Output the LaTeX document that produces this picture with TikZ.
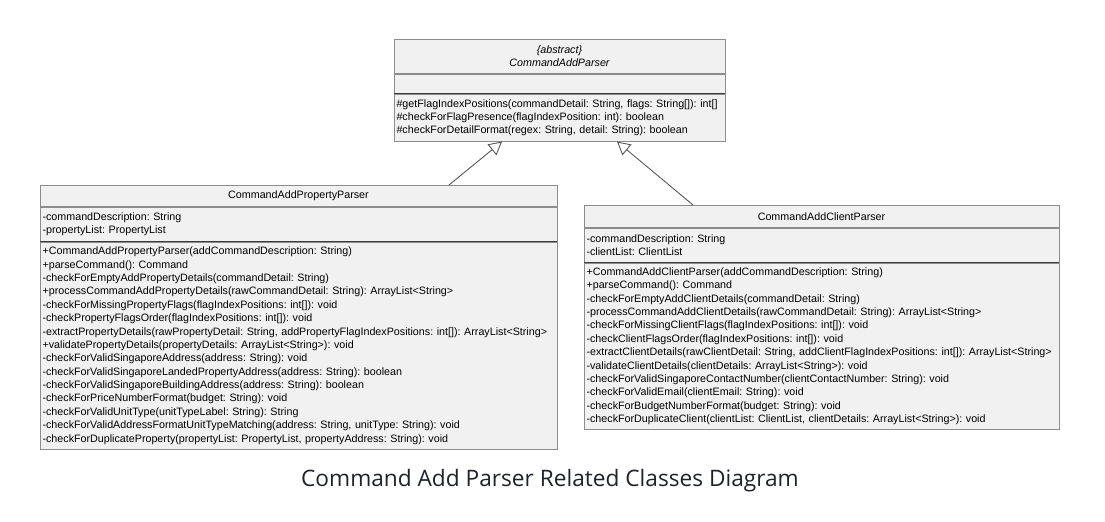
\documentclass[tikz,border=0pt]{standalone}
\usepackage{fontspec}
\usetikzlibrary{arrows.meta}

\newfontfamily\umlfont{Liberation Sans}
\newfontfamily\capfont{Open Sans}
\newcommand\umltext{\umlfont\fontsize{6.1}{7.62}\selectfont\frenchspacing\hyphenpenalty=10000}

\definecolor{boxfill}{HTML}{F1F1F1}
\definecolor{boxline}{HTML}{8C8C8C}
\definecolor{sepline}{HTML}{3C3C3C}
\definecolor{captext}{HTML}{1F2328}

\tikzset{
    part/.style={draw=boxline, line width=0.5pt, fill=boxfill, rectangle, inner xsep=0.05cm, inner ysep=0pt, anchor=north, align=left, font=\umltext},
    inherit/.style={draw=boxline!60!black, line width=0.5pt, -{Triangle[open, length=0.26cm, width=0.28cm]}}
}

\begin{document}
\begin{tikzpicture}[x=0.02cm, y=-0.02cm]
    \useasboundingbox (0,0) rectangle (1105,521);

    %% abstract parent
    \node[part, minimum width=6.62cm, minimum height=0.68cm, align=center, font=\umltext\itshape](parser) at (559.5,39){\{abstract\}\\CommandAddParser};
    \node[part, minimum width=6.62cm, minimum height=0.38cm](parserattr) at (parser.south){};
    \node[part, minimum width=6.62cm, minimum height=0.94cm, text width=6.52cm](parserops) at (parserattr.south){\#getFlagIndexPositions(commandDetail: String, flags: String[]): int[]\\\#checkForFlagPresence(flagIndexPosition: int): boolean\\\#checkForDetailFormat(regex: String, detail: String): boolean};
    \draw[sepline, line width=0.5pt] (parserattr.south west) -- (parserattr.south east);

    %% property parser
    \node[part, minimum width=10.34cm, minimum height=0.42cm, align=center](prop) at (298.5,185){CommandAddPropertyParser};
    \node[part, minimum width=10.34cm, minimum height=0.68cm, text width=10.24cm](propattr) at (prop.south){-commandDescription: String\\-propertyList: PropertyList};
    \node[part, minimum width=10.34cm, minimum height=4.14cm, text width=10.24cm](propops) at (propattr.south){+CommandAddPropertyParser(addCommandDescription: String)\\+parseCommand(): Command\\-checkForEmptyAddPropertyDetails(commandDetail: String)\\+processCommandAddPropertyDetails(rawCommandDetail: String): ArrayList<String>\\-checkForMissingPropertyFlags(flagIndexPositions: int[]): void\\-checkPropertyFlagsOrder(flagIndexPositions: int[]): void\\-extractPropertyDetails(rawPropertyDetail: String, addPropertyFlagIndexPositions: int[]): ArrayList<String>\\+validatePropertyDetails(propertyDetails: ArrayList<String>): void\\-checkForValidSingaporeAddress(address: String): void\\-checkForValidSingaporeLandedPropertyAddress(address: String): boolean\\-checkForValidSingaporeBuildingAddress(address: String): boolean\\-checkForPriceNumberFormat(budget: String): void\\-checkForValidUnitType(unitTypeLabel: String): String\\-checkForValidAddressFormatUnitTypeMatching(address: String, unitType: String): void\\-checkForDuplicateProperty(propertyList: PropertyList, propertyAddress: String): void};
    \draw[sepline, line width=0.5pt] (propattr.south west) -- (propattr.south east);

    %% client parser
    \node[part, minimum width=9.5cm, minimum height=0.44cm, align=center](client) at (821.5,205){CommandAddClientParser};
    \node[part, minimum width=9.5cm, minimum height=0.68cm, text width=9.4cm](clientattr) at (client.south){-commandDescription: String\\-clientList: ClientList};
    \node[part, minimum width=9.5cm, minimum height=3.32cm, text width=9.4cm](clientops) at (clientattr.south){+CommandAddClientParser(addCommandDescription: String)\\+parseCommand(): Command\\-checkForEmptyAddClientDetails(commandDetail: String)\\-processCommandAddClientDetails(rawCommandDetail: String): ArrayList<String>\\-checkForMissingClientFlags(flagIndexPositions: int[]): void\\-checkClientFlagsOrder(flagIndexPositions: int[]): void\\-extractClientDetails(rawClientDetail: String, addClientFlagIndexPositions: int[]): ArrayList<String>\\-validateClientDetails(clientDetails: ArrayList<String>): void\\-checkForValidSingaporeContactNumber(clientContactNumber: String): void\\-checkForValidEmail(clientEmail: String): void\\-checkForBudgetNumberFormat(budget: String): void\\-checkForDuplicateClient(clientList: ClientList, clientDetails: ArrayList<String>): void};
    \draw[sepline, line width=0.5pt] (clientattr.south west) -- (clientattr.south east);

    %% generalisation
    \draw[inherit] ([xshift=3.01cm]prop.north) -- ([xshift=-1.15cm]parserops.south);
    \draw[inherit] ([xshift=-2.57cm]client.north) -- ([xshift=1.15cm]parserops.south);

    \node[font=\capfont\fontsize{12.9}{15}\selectfont, text=captext](caption) at (550,481){Command Add Parser Related Classes Diagram};
\end{tikzpicture}
\end{document}
